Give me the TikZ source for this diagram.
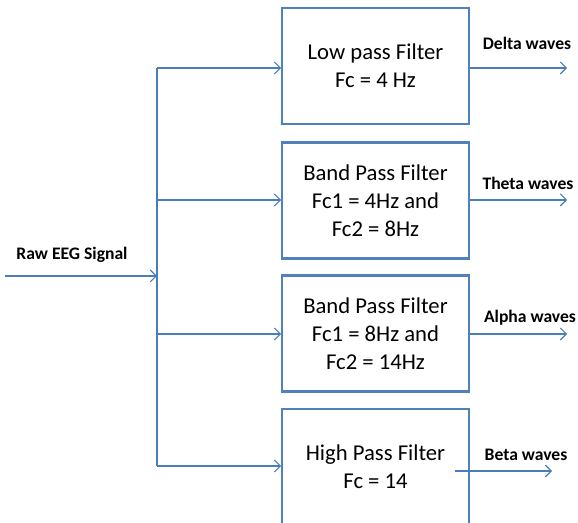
\documentclass[tikz,border=0pt]{standalone}
\usepackage{fontspec}
\setmainfont{Carlito}
\usetikzlibrary{arrows.meta,positioning}

\definecolor{boxblue}{HTML}{4F81BD}
\definecolor{lineblue}{HTML}{4A7EBB}

\tikzset{
  filterbox/.style={draw=boxblue, line width=1.6pt, minimum width=140pt,
    minimum height=87pt, align=center, font=\fontsize{17}{21}\selectfont},
  wavelabel/.style={font=\bfseries\fontsize{13.2}{14}\selectfont},
  flow/.style={draw=lineblue, line width=0.8pt,
    -{Straight Barb[length=4.5pt,width=9pt,line width=0.8pt]}}
}

\begin{document}
\begin{tikzpicture}[x=0.75pt,y=-0.75pt]
\clip (0,0) rectangle (578,523);

% Filters
\node[filterbox] (lowpass) at (375.5,66) {Low pass Filter\\Fc = 4 Hz};
\node[filterbox] (bandone) at (375.5,200.5) {Band Pass Filter\\Fc1 = 4Hz and\\Fc2 = 8Hz};
\node[filterbox] (bandtwo) at (375.5,333.5) {Band Pass Filter\\Fc1 = 8Hz and\\Fc2 = 14Hz};
\node[filterbox] (highpass) at (375.5,467) {High Pass Filter\\Fc = 14};

% Input
\coordinate (rawstart) at (5,276);
\coordinate (bustop) at (157,68);
\coordinate (busmid) at (157,276);
\coordinate (busbottom) at (157,466);

\node[wavelabel] (rawlabel) at (72,255) {Raw EEG Signal};
\draw[flow] (rawstart) -- (busmid);
\draw[draw=lineblue, line width=0.8pt] (bustop) -- (busbottom);

% Branches
\draw[flow] (bustop) -- (bustop -| lowpass.west);
\draw[flow] (157,200) -- (157,200 -| bandone.west);
\draw[flow] (157,334) -- (157,334 -| bandtwo.west);
\draw[flow] (busbottom) -- (busbottom -| highpass.west);

% Outputs
\coordinate (deltaend) at (567,68);
\coordinate (thetaend) at (567,200);
\coordinate (alphaend) at (567,334);
\coordinate (betastart) at (455,471);
\coordinate (betaend) at (552,471);

\draw[flow] (deltaend -| lowpass.east) -- (deltaend);
\draw[flow] (thetaend -| bandone.east) -- (thetaend);
\draw[flow] (alphaend -| bandtwo.east) -- (alphaend);
\draw[flow] (betastart) -- (betaend);

\node[wavelabel] (delta) at (527,43) {Delta waves};
\node[wavelabel] (theta) at (528,183) {Theta waves};
\node[wavelabel] (alpha) at (530,318) {Alpha waves};
\node[wavelabel] (beta) at (526,455) {Beta waves};

\end{tikzpicture}
\end{document}
